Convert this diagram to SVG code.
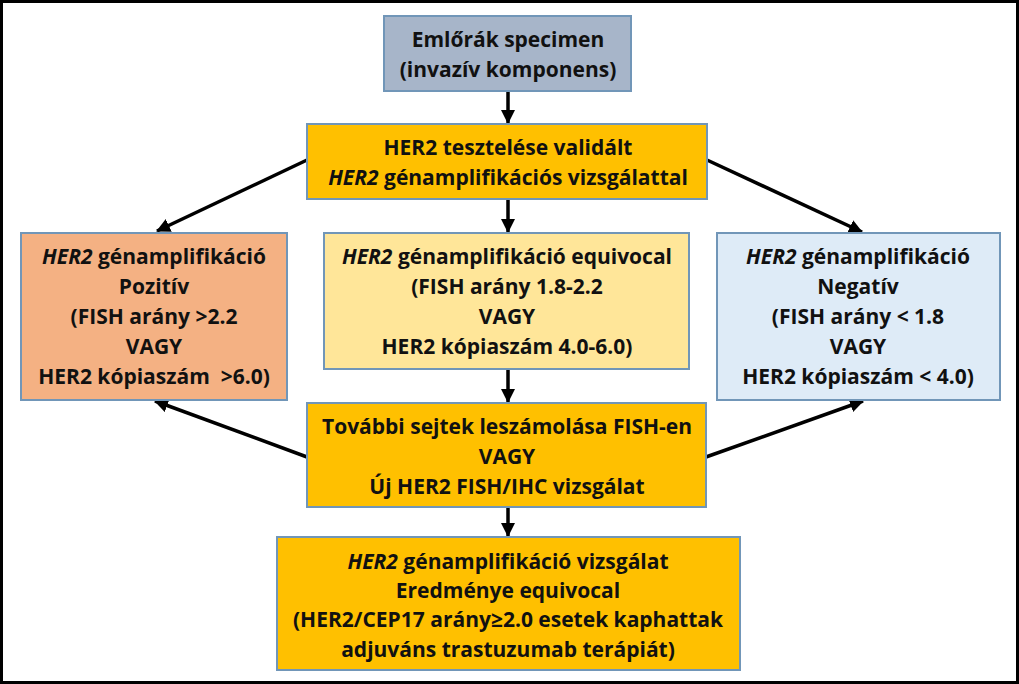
<svg xmlns="http://www.w3.org/2000/svg" width="1019" height="684" viewBox="0 0 1019 684">
<style>
.bx{stroke:#7196B8;stroke-width:2}
.t{font-family:"Open Sans",Lato,"Liberation Sans",sans-serif;font-weight:bold;font-size:21px;fill:#111;text-anchor:middle}
.i{font-style:italic}
.c{stroke:#000;stroke-width:3.5;fill:none;marker-end:url(#ah)}
</style>
<defs>
<marker id="ah" markerUnits="userSpaceOnUse" markerWidth="14" markerHeight="14" refX="13" refY="7" orient="auto" viewBox="0 0 14 14">
<path d="M0,0 L14,7 L0,14 z" fill="#000"/>
</marker>
</defs>
<rect x="0" y="0" width="1019" height="684" fill="#fff"/>
<rect x="1.5" y="1.5" width="1016" height="681" fill="none" stroke="#000" stroke-width="3"/>
<g id="connectors">
<line class="c" x1="508" y1="92" x2="508" y2="123"/>
<line class="c" x1="307" y1="160" x2="157" y2="231"/>
<line class="c" x1="707" y1="160" x2="862" y2="232"/>
<line class="c" x1="508" y1="200" x2="508" y2="232"/>
<line class="c" x1="508" y1="369" x2="508" y2="402"/>
<line class="c" x1="307" y1="457" x2="155" y2="401"/>
<line class="c" x1="706" y1="457" x2="863" y2="401"/>
<line class="c" x1="508" y1="508" x2="508" y2="536"/>
</g>
<g id="specimen">
<rect class="bx" x="384" y="16" width="247" height="75" fill="#A7B5C9"/>
<text class="t" x="508" y="47">Emlőrák specimen</text>
<text class="t" x="508" y="77">(invazív komponens)</text>
</g>
<g id="teszt">
<rect class="bx" x="307" y="124" width="400" height="75" fill="#FFC000"/>
<text class="t" x="508" y="155">HER2 tesztelése validált</text>
<text class="t" x="508" y="185"><tspan class="i">HER2</tspan> génamplifikációs vizsgálattal</text>
</g>
<g id="pozitiv">
<rect class="bx" x="21" y="233" width="266" height="167" fill="#F4B183"/>
<text class="t" x="154" y="264"><tspan class="i">HER2</tspan> génamplifikáció</text>
<text class="t" x="154" y="294">Pozitív</text>
<text class="t" x="154" y="324">(FISH arány &gt;2.2</text>
<text class="t" x="154" y="354">VAGY</text>
<text class="t" x="154" y="384" xml:space="preserve">HER2 kópiaszám  &gt;6.0)</text>
</g>
<g id="equivocal">
<rect class="bx" x="324" y="233" width="365" height="136" fill="#FFE699"/>
<text class="t" x="507" y="264"><tspan class="i">HER2</tspan> génamplifikáció equivocal</text>
<text class="t" x="507" y="294">(FISH arány 1.8-2.2</text>
<text class="t" x="507" y="324">VAGY</text>
<text class="t" x="507" y="354">HER2 kópiaszám 4.0-6.0)</text>
</g>
<g id="negativ">
<rect class="bx" x="717" y="233" width="283" height="167" fill="#DEEBF7"/>
<text class="t" x="858" y="264"><tspan class="i">HER2</tspan> génamplifikáció</text>
<text class="t" x="858" y="294">Negatív</text>
<text class="t" x="858" y="324">(FISH arány &lt; 1.8</text>
<text class="t" x="858" y="354">VAGY</text>
<text class="t" x="858" y="384">HER2 kópiaszám &lt; 4.0)</text>
</g>
<g id="tovabbi">
<rect class="bx" x="307" y="403" width="399" height="104" fill="#FFC000"/>
<text class="t" x="507" y="434">További sejtek leszámolása FISH-en</text>
<text class="t" x="507" y="464">VAGY</text>
<text class="t" x="507" y="494">Új HER2 FISH/IHC vizsgálat</text>
</g>
<g id="eredmeny">
<rect class="bx" x="277" y="537" width="463" height="133" fill="#FFC000"/>
<text class="t" x="508" y="569"><tspan class="i">HER2</tspan> génamplifikáció vizsgálat</text>
<text class="t" x="508" y="598">Eredménye equivocal</text>
<text class="t" x="508" y="627">(HER2/CEP17 arány≥2.0 esetek kaphattak</text>
<text class="t" x="508" y="657">adjuváns trastuzumab terápiát)</text>
</g>
</svg>
